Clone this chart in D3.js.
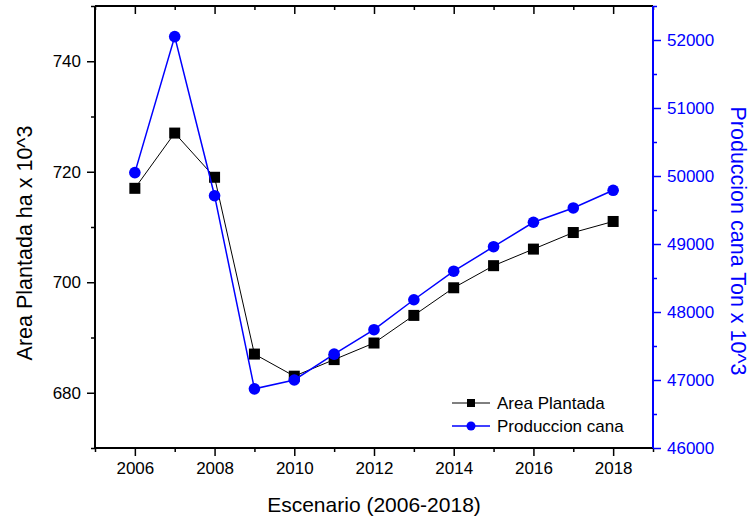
<!DOCTYPE html>
<html>
<head>
<meta charset="utf-8">
<script src="https://cdn.jsdelivr.net/npm/d3@7"></script>
<style>
  html, body { margin: 0; padding: 0; background: #fff; }
  svg { display: block; font-family: Arial, "Liberation Sans", sans-serif; }
</style>
</head>
<body>
<svg id="chart" width="749" height="518"></svg>
<script>
// Years of the scenario
const years = [2006, 2007, 2008, 2009, 2010, 2011, 2012, 2013, 2014, 2015, 2016, 2017, 2018];
// Planted area (ha x 10^3), left axis
const areaPlantada = [717, 727, 719, 687, 683, 686, 689, 694, 699, 703, 706, 709, 711];
// Cane production (Ton x 10^3), right axis
const produccionCana = [50050, 52050, 49710, 46870, 47000, 47380, 47740, 48180, 48600, 48960, 49320, 49530, 49790];
// Axis ticks
const xMajorTicks = [2006, 2008, 2010, 2012, 2014, 2016, 2018];
const xMinorTicks = [2005, 2007, 2009, 2011, 2013, 2015, 2017, 2019];
const leftMajorTicks = [680, 700, 720, 740];
const leftMinorTicks = [670, 690, 710, 730, 750];
const rightMajorTicks = [46000, 47000, 48000, 49000, 50000, 51000, 52000];
const rightMinorTicks = [46500, 47500, 48500, 49500, 50500, 51500, 52500];
const seriesNames = ["Area Plantada", "Produccion cana"];

const BLUE = "#0000ff";
const svg = d3.select("#chart");
const L = 95, R = 653, T = 6, B = 448;

const x = d3.scaleLinear().domain([2005, 2019]).range([L, R]);
const yL = d3.scaleLinear().domain([670, 750]).range([B, T]);
const yR = d3.scaleLinear().domain([46000, 52500]).range([B, T]);

const tickFont = 17;

// Bottom axis: major ticks with labels, minor ticks without
const gx = svg.append("g").attr("transform", `translate(0,${B})`);
gx.call(d3.axisBottom(x).tickValues(xMajorTicks).tickFormat(d3.format("d")).tickSize(8).tickPadding(6));
gx.append("g").call(d3.axisBottom(x).tickValues(xMinorTicks).tickFormat("").tickSize(4));

// Top border: ticks pointing inward
const gt = svg.append("g").attr("transform", `translate(0,${T})`);
gt.call(d3.axisBottom(x).tickValues(xMajorTicks).tickFormat("").tickSize(8));
gt.append("g").call(d3.axisBottom(x).tickValues(xMinorTicks).tickFormat("").tickSize(4));

// Left axis
const gl = svg.append("g").attr("transform", `translate(${L},0)`);
gl.call(d3.axisLeft(yL).tickValues(leftMajorTicks).tickFormat(d3.format("d")).tickSize(8).tickPadding(6));
gl.append("g").call(d3.axisLeft(yL).tickValues(leftMinorTicks).tickFormat("").tickSize(4));

// Right axis (blue)
const gr = svg.append("g").attr("transform", `translate(${R},0)`);
gr.call(d3.axisRight(yR).tickValues(rightMajorTicks).tickFormat(d3.format("d")).tickSize(8).tickPadding(6));
gr.append("g").call(d3.axisRight(yR).tickValues(rightMinorTicks).tickFormat("").tickSize(4));

[gx, gt, gl, gr].forEach(g => {
  g.selectAll("path.domain").attr("stroke-width", 1.8);
  g.selectAll(".tick line").attr("stroke-width", 1.5);
  g.selectAll("text").attr("font-size", tickFont).attr("font-family", "Arial, 'Liberation Sans', sans-serif");
});
gt.selectAll("path.domain").attr("d", `M${L},0H${R}`);
gx.selectAll("path.domain").attr("d", `M${L},0H${R}`);
gl.selectAll("path.domain").attr("d", `M0,${T}V${B}`);
gr.selectAll("path.domain").attr("d", `M0,${T}V${B}`);
gr.selectAll("path, line").attr("stroke", BLUE);
gr.selectAll("text").attr("fill", BLUE);
gx.selectAll("text").attr("fill", "#000");
gl.selectAll("text").attr("fill", "#000");

// Series lines
const areaData = years.map((yr, i) => ({ yr, v: areaPlantada[i] }));
const prodData = years.map((yr, i) => ({ yr, v: produccionCana[i] }));

svg.append("path")
  .datum(areaData)
  .attr("fill", "none").attr("stroke", "#000").attr("stroke-width", 1)
  .attr("d", d3.line().x(d => x(d.yr)).y(d => yL(d.v)));
svg.append("g").selectAll("rect").data(areaData).join("rect")
  .attr("x", d => x(d.yr) - 5.5).attr("y", d => yL(d.v) - 5.5)
  .attr("width", 11).attr("height", 11).attr("fill", "#000");

svg.append("path")
  .datum(prodData)
  .attr("fill", "none").attr("stroke", BLUE).attr("stroke-width", 1.5)
  .attr("d", d3.line().x(d => x(d.yr)).y(d => yR(d.v)));
svg.append("g").selectAll("circle").data(prodData).join("circle")
  .attr("cx", d => x(d.yr)).attr("cy", d => yR(d.v))
  .attr("r", 5.8).attr("fill", BLUE);

// Axis titles
svg.append("text")
  .attr("x", (L + R) / 2).attr("y", 512)
  .attr("text-anchor", "middle").attr("font-size", 21).attr("fill", "#000")
  .text("Escenario (2006-2018)");
svg.append("text")
  .attr("transform", `translate(32,243) rotate(-90)`)
  .attr("text-anchor", "middle").attr("font-size", 21.5).attr("fill", "#000")
  .text("Area Plantada ha x 10^3");
svg.append("text")
  .attr("transform", `translate(731,241) rotate(90)`)
  .attr("text-anchor", "middle").attr("font-size", 21.5).attr("fill", BLUE)
  .text("Produccion cana Ton x 10^3");

// Legend
const legend = svg.append("g");
const legendRows = [
  { name: seriesNames[0], color: "#000", shape: "square", y: 403 },
  { name: seriesNames[1], color: BLUE, shape: "circle", y: 426 }
];
legendRows.forEach(r => {
  legend.append("line")
    .attr("x1", 452).attr("x2", 490).attr("y1", r.y).attr("y2", r.y)
    .attr("stroke", r.color).attr("stroke-width", r.shape === "circle" ? 1.5 : 1);
  if (r.shape === "square") {
    legend.append("rect").attr("x", 467).attr("y", r.y - 4).attr("width", 8).attr("height", 8).attr("fill", r.color);
  } else {
    legend.append("circle").attr("cx", 471).attr("cy", r.y).attr("r", 4.5).attr("fill", r.color);
  }
  legend.append("text").attr("x", 497).attr("y", r.y).attr("dy", "0.35em")
    .attr("font-size", 17).attr("fill", "#000").text(r.name);
});
</script>
</body>
</html>
